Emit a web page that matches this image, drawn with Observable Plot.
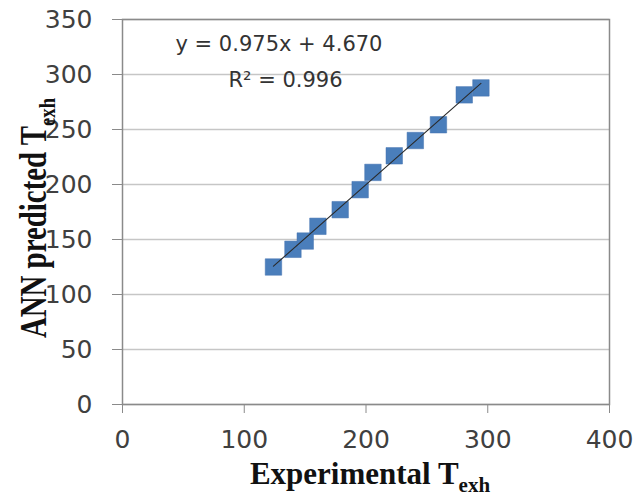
<!DOCTYPE html>
<html><head><meta charset="utf-8">
<script src="https://cdn.jsdelivr.net/npm/d3@7"></script>
<script src="https://cdn.jsdelivr.net/npm/@observablehq/plot@0.6"></script>
<style>body{margin:0;background:#fff}</style>
</head><body><div id="chart"></div>
<script>
const experimental = [124.0, 140.0, 150.1, 160.5, 178.8, 195.2, 205.7, 223.2, 240.5, 259.5, 280.7, 294.4];
const predicted    = [125.0, 141.1, 148.6, 162.0, 177.1, 195.3, 211.0, 226.1, 240.0, 254.3, 281.5, 287.8];
const xTicks = [0, 100, 200, 300, 400];
const yTicks = [0, 50, 100, 150, 200, 250, 300, 350];
const equationText = "y = 0.975x + 4.670";
const r2Text = "R² = 0.996";
const xTitle = ["Experimental T", "exh"];
const yTitle = ["ANN predicted T", "exh"];

const data = experimental.map((x, i) => ({x, y: predicted[i]}));
const tickFont = "DejaVu Sans, Verdana, sans-serif";

const plot = Plot.plot({
  width: 637, height: 502,
  marginLeft: 122, marginRight: 28, marginTop: 19, marginBottom: 98,
  x: {domain: [0, 400], label: null},
  y: {domain: [0, 350], label: null},
  style: {fontFamily: tickFont, fontSize: "25px", background: "#fff", color: "#404040"},
  marks: [
    Plot.gridY(yTicks, {stroke: "#c6c6c6", strokeOpacity: 1, strokeWidth: 1.4}),
    Plot.frame({stroke: "#8a8a8a", strokeWidth: 1.5}),
    Plot.axisX(xTicks, {tickSize: 9, tickPadding: 17, stroke: "#8a8a8a", fill: "#404040", label: null, fontSize: 25}),
    Plot.axisY(yTicks, {tickSize: 10, tickPadding: 20, stroke: "#8a8a8a", fill: "#404040", label: null, fontSize: 25}),
    Plot.dot(data, {x: "x", y: "y", symbol: "square", r: 9.3, fill: "#4a7ebb", stroke: "#4573b0", strokeWidth: 0.5}),
    Plot.linearRegressionY(data, {x: "x", y: "y", ci: 0, stroke: "#2a2a2a", strokeWidth: 1.1}),
    Plot.text([equationText], {text: d => d, frameAnchor: "top-left", textAnchor: "start", lineAnchor: "middle", dx: 53, dy: 25, fontSize: 21, fill: "#333"}),
    Plot.text([r2Text], {text: d => d, frameAnchor: "top-left", textAnchor: "start", lineAnchor: "middle", dx: 106, dy: 61, fontSize: 21, fill: "#333"})
  ]
});

const svg = d3.select(plot);
const titleFont = "Liberation Serif, Times New Roman, serif";
const xt = svg.append("text")
  .attr("x", 370).attr("y", 484)
  .attr("text-anchor", "middle")
  .attr("font-family", titleFont).attr("font-weight", "bold").attr("font-size", 31).attr("fill", "#111");
xt.append("tspan").text(xTitle[0]);
xt.append("tspan").attr("font-size", 21).attr("dy", 8).text(xTitle[1]);

const yt = svg.append("text")
  .attr("transform", "translate(46,218) rotate(-90) scale(0.78,1)")
  .attr("text-anchor", "middle")
  .attr("font-family", titleFont).attr("font-weight", "bold").attr("font-size", 37).attr("fill", "#111");
yt.append("tspan").text(yTitle[0]);
yt.append("tspan").attr("font-size", 24).attr("dy", 9).text(yTitle[1]);

document.getElementById("chart").appendChild(plot);
</script>
</body></html>
